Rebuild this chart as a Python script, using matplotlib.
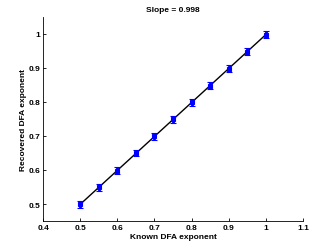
import matplotlib

matplotlib.use("Agg")
import matplotlib.pyplot as plt
import numpy as np

known = [0.5, 0.55, 0.6, 0.65, 0.7, 0.75, 0.8, 0.85, 0.9, 0.95, 1.0]
recovered = [0.499, 0.549, 0.598, 0.649, 0.699, 0.749, 0.799, 0.848, 0.898, 0.948, 0.998]
err = [0.010, 0.010, 0.010, 0.009, 0.010, 0.010, 0.010, 0.010, 0.010, 0.010, 0.011]
slope = 0.998
xticks = [0.4, 0.5, 0.6, 0.7, 0.8, 0.9, 1, 1.1]
yticks = [0.5, 0.6, 0.7, 0.8, 0.9, 1]

plt.rcParams["font.family"] = ["Liberation Sans", "DejaVu Sans"]
plt.rcParams["font.weight"] = "bold"

fig = plt.figure(figsize=(3.34, 2.51), dpi=100)
ax = fig.add_axes([0.129, 0.1155, 0.778, 0.813])

fit = np.polyfit(known, recovered, 1)
xs = np.array([known[0], known[-1]])
ax.plot(xs, np.polyval(fit, xs), color="black", lw=1.0, zorder=2)
ax.errorbar(known, recovered, yerr=err, fmt="s", color="blue", ms=3.5,
            mew=0.8, elinewidth=2.0, capsize=2.0, capthick=1.2, zorder=3)

ax.set_xlim(0.4, 1.1)
ax.set_ylim(0.45, 1.05)
ax.set_xticks(xticks)
ax.set_xticklabels([f"{t:g}" for t in xticks])
ax.set_yticks(yticks)
ax.set_yticklabels([f"{t:g}" for t in yticks])
ax.spines["top"].set_visible(False)
ax.spines["right"].set_visible(False)
for s in ("left", "bottom"):
    ax.spines[s].set_linewidth(0.6)
ax.tick_params(labelsize=6, length=2, width=0.6, pad=2, direction="in")
ax.set_xlabel("Known DFA exponent", fontsize=6, fontweight="bold", labelpad=1.5)
ax.set_ylabel("Recovered DFA exponent", fontsize=6, fontweight="bold", labelpad=1)
ax.set_title(f"Slope = {slope:.3f}", fontsize=6, fontweight="bold", pad=4)

fig.savefig("out.png", dpi=100)
